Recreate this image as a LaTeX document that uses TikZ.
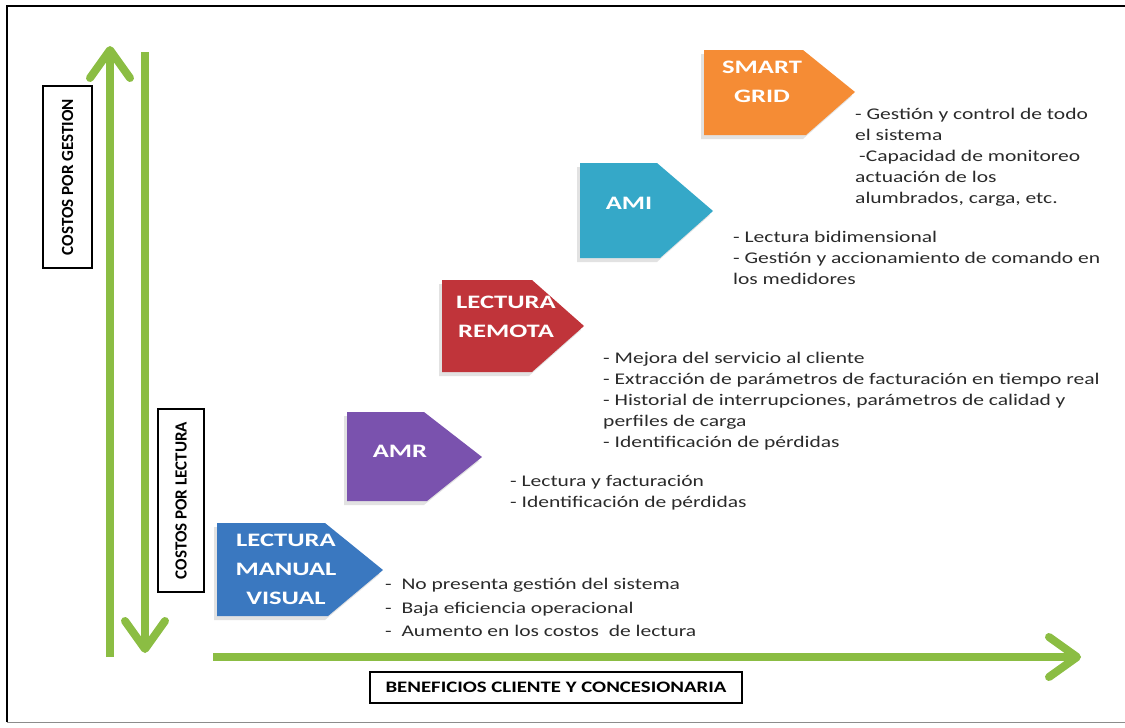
\documentclass[tikz,border=0pt]{standalone}
\usepackage{fontspec}
\setmainfont{Carlito}[FakeStretch=1.32]
\newfontfamily\labelfont{Carlito}[FakeStretch=1.0]
\newfontfamily\widelabelfont{Carlito}[FakeStretch=1.3]
\newfontfamily\stagefont{Carlito}[FakeStretch=1.4]
\usetikzlibrary{arrows.meta}

\definecolor{axisgreen}{HTML}{8BBD43}
\definecolor{stageblue}{HTML}{3A78C0}
\definecolor{stagepurple}{HTML}{7A52AE}
\definecolor{stagered}{HTML}{C0343A}
\definecolor{stageteal}{HTML}{35A8C8}
\definecolor{stageorange}{HTML}{F58C35}
\definecolor{bodytext}{HTML}{2A2A2A}

\begin{document}
\begin{tikzpicture}[x=1pt,y=-1pt,
  axis/.style={draw=axisgreen,line width=8pt,
    -{Straight Barb[length=28pt,width=40pt,round]}},
  axislabel/.style={draw=black,line width=1.3pt,fill=white,inner sep=0pt,
    font=\labelfont\bfseries\fontsize{17}{19}\selectfont},
  stageshadow/.style={fill=black!25,opacity=0.45,xshift=-3pt,yshift=-4pt},
  stagetext/.style={text=white,font=\stagefont\bfseries\fontsize{19}{29}\selectfont,
    align=center,inner sep=0pt},
  notes/.style={text=bodytext,font=\fontsize{16.3}{21}\selectfont,
    align=left,anchor=north west,inner sep=0pt}]

\useasboundingbox (0,0) rectangle (1125,728);

% frame
\draw[line width=1.6pt] (7,722) -- (7,6) -- (1125,6);
\draw[line width=0.8pt,black!45] (7,722) -- (1125,722);

% axes
\coordinate (gestionFoot) at (110,657);
\coordinate (gestionTip) at (110,46);
\coordinate (lecturaFoot) at (145,52);
\coordinate (lecturaTip) at (145,653);
\coordinate (benefFoot) at (213,657);
\coordinate (benefTip) at (1081,657);
\draw[axis] (gestionFoot) -- (gestionTip);
\draw[axis] (lecturaFoot) -- (lecturaTip);
\draw[axis] (benefFoot) -- (benefTip);

% axis labels
\node[axislabel,rotate=90,minimum width=182pt,minimum height=49pt]
  (lblGestion) at (67.5,177) {COSTOS POR GESTION};
\node[axislabel,rotate=90,minimum width=183pt,minimum height=46pt]
  (lblLectura) at (181,500.5) {COSTOS POR LECTURA};
\node[axislabel,font=\widelabelfont\bfseries\fontsize{16}{18}\selectfont,
  minimum width=372pt,minimum height=31pt]
  (lblBenef) at (556,687.5) {BENEFICIOS CLIENTE Y CONCESIONARIA};

% stage: lectura manual visual
\fill[stageshadow] (217,523) -- (325,523) -- (383,570) -- (328,616) -- (217,616) -- cycle;
\fill[stageblue] (217,523) -- (325,523) -- (383,570) -- (328,616) -- (217,616) -- cycle;
\node[stagetext] (manual) at (286,569) {LECTURA\\MANUAL\\VISUAL};

% stage: AMR
\fill[stageshadow] (347,412) -- (424,412) -- (482,457) -- (427,501) -- (347,501) -- cycle;
\fill[stagepurple] (347,412) -- (424,412) -- (482,457) -- (427,501) -- (347,501) -- cycle;
\node[stagetext] (amr) at (400,451) {AMR};

% stage: lectura remota
\fill[stageshadow] (442,280) -- (532,280) -- (584,326) -- (532,372) -- (442,372) -- cycle;
\fill[stagered] (442,280) -- (532,280) -- (584,326) -- (532,372) -- (442,372) -- cycle;
\node[stagetext] (remota) at (506,317) {LECTURA\\REMOTA};

% stage: AMI
\fill[stageshadow] (580,163) -- (657,163) -- (713,211) -- (660,258) -- (580,258) -- cycle;
\fill[stageteal] (580,163) -- (657,163) -- (713,211) -- (660,258) -- (580,258) -- cycle;
\node[stagetext] (ami) at (629,203) {AMI};

% stage: smart grid
\fill[stageshadow] (704,50) -- (803,50) -- (855,92) -- (806,135) -- (704,135) -- cycle;
\fill[stageorange] (704,50) -- (803,50) -- (855,92) -- (806,135) -- (704,135) -- cycle;
\node[stagetext] (smart) at (762,82) {SMART\\GRID};

% benefits of each stage
\node[notes] (smartNotes) at (855,108) {- Gestión y control de todo\\el sistema\\\hspace*{4pt}-Capacidad de monitoreo\\actuación de los\\alumbrados, carga, etc.};
\node[notes] (amiNotes) at (733,231) {- Lectura bidimensional\\- Gestión y accionamiento de comando en\\los medidores};
\node[notes] (remotaNotes) at (603,352) {- Mejora del servicio al cliente\\- Extracción de parámetros de facturación en tiempo real\\- Historial de interrupciones, parámetros de calidad y\\perfiles de carga\\- Identificación de pérdidas};
\node[notes] (amrNotes) at (510,475) {- Lectura y facturación\\- Identificación de pérdidas};
\node[notes,font=\fontsize{16.3}{23.5}\selectfont] (manualNotes) at (385,578) {-\ \ No presenta gestión del sistema\\-\ \ Baja eficiencia operacional\\-\ \ Aumento en los costos\ \ de lectura};

\end{tikzpicture}
\end{document}
